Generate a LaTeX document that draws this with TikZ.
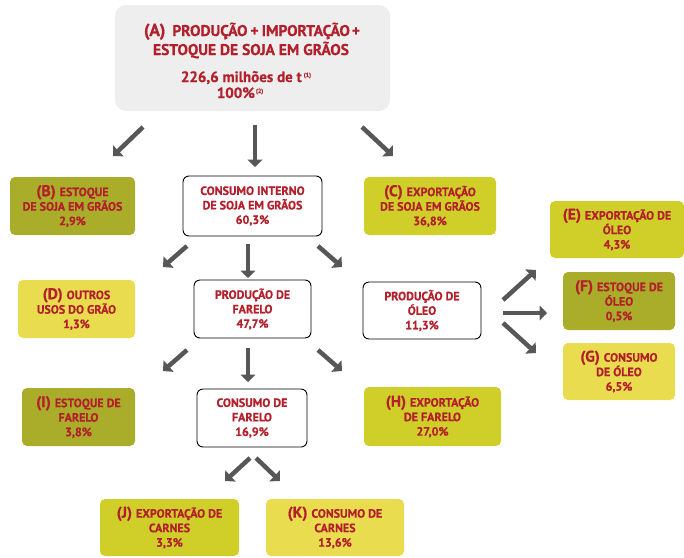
\documentclass[tikz,border=0pt]{standalone}
\usepackage{fontspec}
\setmainfont{PT Sans}[BoldFont={PT Sans Bold}, BoldFeatures={FakeBold=0.6}]
\usetikzlibrary{arrows.meta}
\definecolor{txtred}{HTML}{B3202C}
\definecolor{boxgray}{HTML}{EEEEEE}
\definecolor{olivebox}{HTML}{A9AD29}
\definecolor{limebox}{HTML}{D0CF2A}
\definecolor{yellbox}{HTML}{E9DD4F}
\definecolor{arrgray}{HTML}{575757}
\newcommand{\boxlab}[1]{{\fontsize{15.5}{15}\selectfont #1}\hspace{4pt}}
\begin{document}
\begin{tikzpicture}[x=1pt,y=-1pt,
  bx/.style={rounded corners=5pt, inner sep=0pt, align=center, text=txtred,
     font=\bfseries\fontsize{12}{14.5}\selectfont},
  olv/.style={bx, fill=olivebox},
  lim/.style={bx, fill=limebox},
  yel/.style={bx, fill=yellbox},
  wht/.style={bx, fill=white, draw=black, line width=0.9pt, rounded corners=6pt},
  atx/.style={text=txtred, inner sep=0pt, anchor=base, font=\bfseries\fontsize{15.5}{17}\selectfont},
  arr/.style={draw=arrgray, line width=4.5pt, -{Triangle[width=15pt,length=7.5pt]}}
]
\useasboundingbox (0,0) rectangle (684,557);

% top box
\node[fill=boxgray, rounded corners=11pt, minimum width=275pt, minimum height=106pt, inner sep=0pt] (A) at (252.5,58) {};
\node[atx] (At1) at (252,36) {{\fontsize{17.5}{17}\selectfont (A)}\hspace{7pt}PRODUÇÃO\hspace{3pt}+\hspace{3pt}IMPORTAÇÃO\hspace{2pt}+};
\node[atx] (At2) at (251,55) {ESTOQUE DE SOJA EM GRÃOS};
\node[atx, font=\bfseries\fontsize{15}{17}\selectfont] (At3) at (246,82) {226,6 milhões de t\hspace{2pt}\raisebox{5pt}{\fontsize{6}{6}\selectfont(1)}};
\node[atx, font=\bfseries\fontsize{15}{17}\selectfont] (At4) at (240,98) {100\%\hspace{1pt}\raisebox{5pt}{\fontsize{6}{6}\selectfont(2)}};

% row 1
\node[olv, minimum width=125pt, minimum height=58pt] (B) at (72.5,206)
  {\boxlab{(B)}ESTOQUE\\DE SOJA EM GRÃOS\\2,9\%};
\node[wht, minimum width=139pt, minimum height=60pt] (CI) at (252.5,206)
  {CONSUMO INTERNO\\DE SOJA EM GRÃOS\\60,3\%};
\node[lim, minimum width=132pt, minimum height=58pt] (C) at (430,206)
  {\boxlab{(C)}EXPORTAÇÃO\\DE SOJA EM GRÃOS\\36,8\%};
\node[lim, minimum width=134pt, minimum height=57pt] (E) at (617,229.5)
  {\boxlab{(E)}EXPORTAÇÃO DE\\ÓLEO\\4,3\%};

% row 2
\node[yel, minimum width=117pt, minimum height=58pt] (D) at (76.5,309)
  {\boxlab{(D)}OUTROS\\USOS DO GRÃO\\1,3\%};
\node[wht, minimum width=117pt, minimum height=58pt] (PF) at (252.5,309)
  {PRODUÇÃO DE\\FARELO\\47,7\%};
\node[wht, minimum width=118pt, minimum height=57pt] (PO) at (422,310.5)
  {PRODUÇÃO DE\\ÓLEO\\11,3\%};
\node[olv, minimum width=112pt, minimum height=58pt] (F) at (619,301)
  {\boxlab{(F)}ESTOQUE DE\\ÓLEO\\0,5\%};
\node[yel, minimum width=112pt, minimum height=57pt] (G) at (619,371.5)
  {\boxlab{(G)}CONSUMO\\DE ÓLEO\\6,5\%};

% row 3
\node[olv, minimum width=113pt, minimum height=58pt] (I) at (78.5,417)
  {\boxlab{(I)}ESTOQUE DE\\FARELO\\3,8\%};
\node[wht, minimum width=110pt, minimum height=58pt] (CF) at (252,418)
  {CONSUMO DE\\FARELO\\16,9\%};
\node[lim, minimum width=137pt, minimum height=59pt] (H) at (432.5,416.5)
  {\boxlab{(H)}EXPORTAÇÃO\\DE FARELO\\27,0\%};

% row 4
\node[lim, minimum width=139pt, minimum height=57pt] (J) at (169.5,527.5)
  {\boxlab{(J)}EXPORTAÇÃO DE\\CARNES\\3,3\%};
\node[yel, minimum width=138pt, minimum height=57pt] (K) at (335,527.5)
  {\boxlab{(K)}CONSUMO DE\\CARNES\\13,6\%};

% arrow coordinates
\coordinate (a1ls) at (143,127); \coordinate (a1le) at (113,156);
\coordinate (a1cs) at (255,125); \coordinate (a1ce) at (255,167);
\coordinate (a1rs) at (362,127); \coordinate (a1re) at (393,156);
\coordinate (a2ls) at (187,246); \coordinate (a2le) at (163,267);
\coordinate (a2cs) at (248,244); \coordinate (a2ce) at (248,278);
\coordinate (a2rs) at (318,246); \coordinate (a2re) at (342,267);
\coordinate (a3ls) at (187,350); \coordinate (a3le) at (163,371);
\coordinate (a3cs) at (248,348); \coordinate (a3ce) at (248,382);
\coordinate (a3rs) at (318,350); \coordinate (a3re) at (342,371);
\coordinate (a4ls) at (250,458); \coordinate (a4le) at (225,481);
\coordinate (a4rs) at (256,458); \coordinate (a4re) at (280,481);
\coordinate (oUs) at (503,300); \coordinate (oUe) at (536,270);
\coordinate (oRs) at (503,313); \coordinate (oRe) at (547,313);
\coordinate (oDs) at (503,323); \coordinate (oDe) at (536,353);

\foreach \s/\e in {a1ls/a1le,a1cs/a1ce,a1rs/a1re,a2ls/a2le,a2cs/a2ce,a2rs/a2re,
  a3ls/a3le,a3cs/a3ce,a3rs/a3re,a4ls/a4le,a4rs/a4re,oUs/oUe,oRs/oRe,oDs/oDe}
  \draw[arr] (\s) -- (\e);
\end{tikzpicture}
\end{document}
